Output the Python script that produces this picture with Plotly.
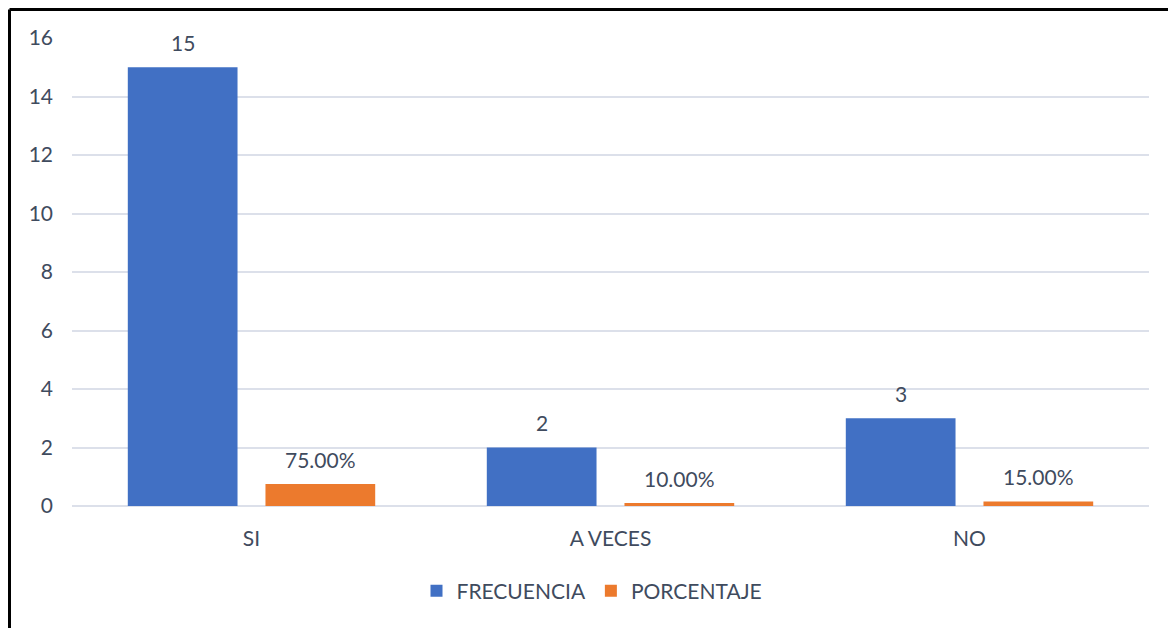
import plotly.graph_objects as go

categories = ["SI", "A VECES", "NO"]
frecuencia = [15, 2, 3]
porcentaje = [0.75, 0.10, 0.15]
freq_labels = ["15", "2", "3"]
pct_labels = ["75.00%", "10.00%", "15.00%"]
y_ticks = [0, 2, 4, 6, 8, 10, 12, 14, 16]

FONT = "Lato"
TXT = "#3F4B5E"
BLUE = "#4170C4"
ORANGE = "#EC7A2D"
FS = 21

fig = go.Figure()
fig.add_trace(go.Bar(name="FRECUENCIA", x=categories, y=frecuencia,
                     marker=dict(color=BLUE, line=dict(width=0))))
fig.add_trace(go.Bar(name="PORCENTAJE", x=categories, y=porcentaje,
                     marker=dict(color=ORANGE, line=dict(width=0))))

annotations = []
for c, v, t in zip(categories, frecuencia, freq_labels):
    annotations.append(dict(x=c, y=v, xref="x", yref="y", text=t, showarrow=False,
                            xshift=-69, yshift=25, yanchor="middle",
                            font=dict(family=FONT, size=FS, color=TXT)))
for c, v, t in zip(categories, porcentaje, pct_labels):
    annotations.append(dict(x=c, y=v, xref="x", yref="y", text=t, showarrow=False,
                            xshift=69, yshift=25, yanchor="middle",
                            font=dict(family=FONT, size=FS, color=TXT)))

W, H = 1168, 620
L, R, T, B = 64, 27, 30, 122
pw, ph = W - L - R, H - T - B
bx = (1.5 - L) / pw
by = (H - B - 1.5) / ph

shapes = [
    dict(type="line", xref="paper", yref="paper", x0=bx, x1=bx, y0=-1, y1=by,
         line=dict(color="black", width=3)),
    dict(type="line", xref="paper", yref="paper", x0=bx, x1=1.2, y0=by, y1=by,
         line=dict(color="black", width=3)),
]

fig.update_layout(
    width=W, height=H,
    margin=dict(l=L, r=R, t=T, b=B),
    paper_bgcolor="white", plot_bgcolor="white",
    barmode="group", bargap=0.233, bargroupgap=0.203,
    font=dict(family=FONT, size=FS, color=TXT),
    showlegend=True,
    legend=dict(orientation="h", x=(584 - L) / pw, xanchor="center",
                y=(H - B - 583) / ph, yanchor="middle",
                font=dict(family=FONT, size=FS, color=TXT),
                itemwidth=30, tracegroupgap=0),
    annotations=annotations,
    shapes=shapes,
    xaxis=dict(showgrid=False, showline=False, ticks="", ticklabelstandoff=18,
               tickfont=dict(family=FONT, size=FS, color=TXT)),
    yaxis=dict(range=[0, 16], tickvals=y_ticks, showgrid=True,
               gridcolor="#DCE0EA", gridwidth=2, zeroline=True,
               zerolinecolor="#DCE0EA", zerolinewidth=2, showline=False,
               ticks="", ticklabelstandoff=18,
               tickfont=dict(family=FONT, size=FS, color=TXT)),
)

fig.write_html("out.html")
